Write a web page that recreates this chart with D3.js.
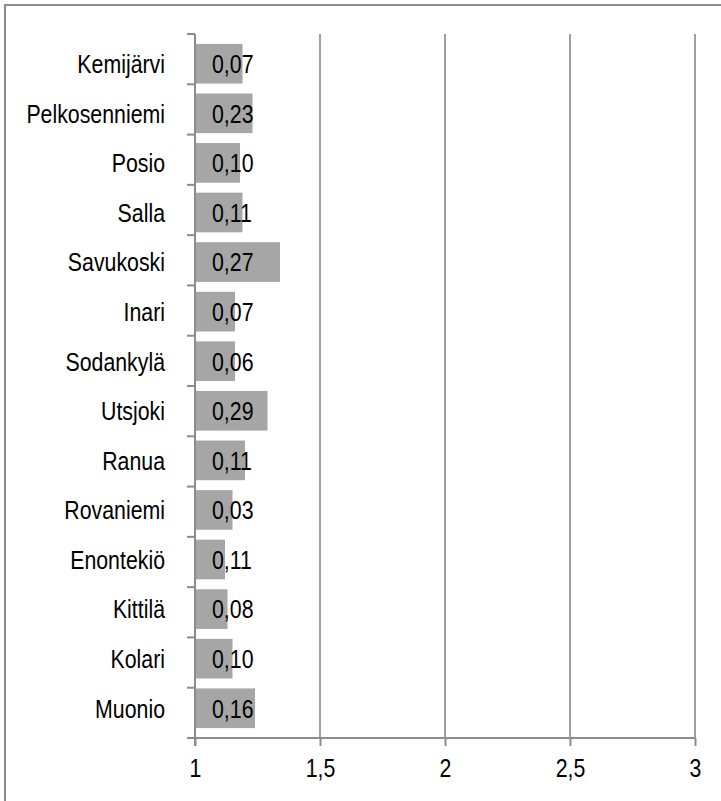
<!DOCTYPE html>
<html>
<head>
<meta charset="utf-8">
<script src="https://cdn.jsdelivr.net/npm/d3@7"></script>
<style>
  body { margin: 0; background: #fff; }
  svg { display: block; font-family: "Liberation Sans", Arial, sans-serif; }
</style>
</head>
<body>
<div id="chart"></div>
<script>
/* Municipalities, top to bottom */
var categories = ["Kemijärvi", "Pelkosenniemi", "Posio", "Salla", "Savukoski", "Inari",
    "Sodankylä", "Utsjoki", "Ranua", "Rovaniemi", "Enontekiö", "Kittilä", "Kolari", "Muonio"];

/* Bar values */
var values = [1.19, 1.23, 1.18, 1.19, 1.34, 1.16, 1.16, 1.29, 1.20, 1.15, 1.12, 1.13, 1.15, 1.24];

/* Texts printed on the bars */
var labels = ["0,07", "0,23", "0,10", "0,11", "0,27", "0,07", "0,06", "0,29", "0,11", "0,03",
    "0,11", "0,08", "0,10", "0,16"];

/* X axis ticks */
var xTicks = [1, 1.5, 2, 2.5, 3];

var width = 721,
    height = 801;
var margin = { top: 34, right: 26, bottom: 63, left: 195 };
var innerW = width - margin.left - margin.right,
    innerH = height - margin.top - margin.bottom;
var fontSize = "26px";
/* the original font is a narrow one, so squeeze the text sideways */
var squeeze = " scale(0.82,1)";

var svg = d3.select("#chart")
    .append("svg")
    .attr("width", width)
    .attr("height", height);

/* Outer frame, runs off the right and bottom edges */
svg.append("rect")
    .attr("x", 5)
    .attr("y", 5)
    .attr("width", 900)
    .attr("height", 900)
    .attr("fill", "none")
    .attr("stroke", "#8c8c8c")
    .attr("stroke-width", 2);

var g = svg.append("g")
    .attr("transform", "translate(" + margin.left + "," + margin.top + ")");

var x = d3.scaleLinear().domain([1, 3]).range([0, innerW]);
var y = d3.scaleBand().domain(categories).range([0, innerH]).padding(0.2);

/* Vertical gridlines */
g.selectAll(".grid")
    .data(xTicks.slice(1))
    .enter().append("line")
    .attr("class", "grid")
    .attr("x1", function (d) { return x(d); })
    .attr("x2", function (d) { return x(d); })
    .attr("y1", 0)
    .attr("y2", innerH)
    .attr("stroke", "#a0a0a0")
    .attr("stroke-width", 2);

/* Bars */
g.selectAll(".bar")
    .data(values)
    .enter().append("rect")
    .attr("class", "bar")
    .attr("x", x(1))
    .attr("y", function (d, i) { return y(categories[i]); })
    .attr("width", function (d) { return x(d) - x(1); })
    .attr("height", y.bandwidth())
    .attr("fill", "#a6a6a6");

/* Value labels */
g.selectAll(".lbl")
    .data(labels)
    .enter().append("text")
    .attr("class", "lbl")
    .attr("transform", function (d, i) {
        return "translate(" + (x(1) + 17) + "," + (y(categories[i]) + y.bandwidth() / 2) + ")" + squeeze;
    })
    .attr("dy", "0.36em")
    .attr("font-size", fontSize)
    .attr("fill", "#000")
    .text(function (d) { return d; });

/* Y axis: ticks on the category boundaries */
var yBounds = d3.range(categories.length + 1).map(function (i) { return i * innerH / categories.length; });
var yAxisG = g.append("g");
yAxisG.append("line")
    .attr("x1", 0).attr("x2", 0)
    .attr("y1", 0).attr("y2", innerH + 8)
    .attr("stroke", "#8c8c8c").attr("stroke-width", 2);
yAxisG.selectAll(".ytick")
    .data(yBounds)
    .enter().append("line")
    .attr("class", "ytick")
    .attr("x1", -8).attr("x2", 0)
    .attr("y1", function (d) { return d; })
    .attr("y2", function (d) { return d; })
    .attr("stroke", "#8c8c8c").attr("stroke-width", 2);
yAxisG.selectAll(".ylabel")
    .data(categories)
    .enter().append("text")
    .attr("class", "ylabel")
    .attr("transform", function (d) {
        return "translate(-30," + (y(d) + y.bandwidth() / 2) + ")" + squeeze;
    })
    .attr("dy", "0.36em")
    .attr("text-anchor", "end")
    .attr("font-size", fontSize)
    .attr("fill", "#000")
    .text(function (d) { return d; });

/* X axis */
var xAxis = d3.axisBottom(x)
    .tickValues(xTicks)
    .tickSize(8)
    .tickPadding(13)
    .tickFormat(function (d) { return String(d).replace(".", ","); });

var xg = g.append("g")
    .attr("transform", "translate(0," + innerH + ")")
    .call(xAxis);
xg.attr("font-family", null);
xg.select(".domain").attr("stroke", "#8c8c8c").attr("stroke-width", 2)
    .attr("d", "M0,0H" + innerW);
xg.selectAll(".tick line").attr("stroke", "#8c8c8c").attr("stroke-width", 2);
xg.selectAll(".tick text")
    .attr("font-size", fontSize)
    .attr("fill", "#000")
    .attr("transform", squeeze.trim());
</script>
</body>
</html>
